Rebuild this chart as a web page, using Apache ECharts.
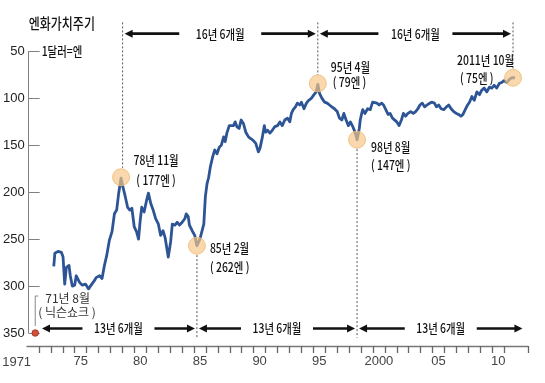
<!DOCTYPE html>
<html><head><meta charset="utf-8">
<script src="https://cdn.jsdelivr.net/npm/echarts@6/dist/echarts.min.js"></script>
<style>html,body{margin:0;padding:0;background:#fff}#c{width:545px;height:383px}</style>
</head><body><div id="c"></div>
<script>
// ---- DATA ----
const dates = [
 1973.11,1973.20,1973.47,1973.75,1973.89,
 1974.03,1974.17,1974.39,1974.50,1974.67,1974.87,
 1975.00,1975.28,1975.50,1975.79,
 1976.04,1976.25,1976.54,1976.67,1976.96,
 1977.17,1977.37,1977.57,1977.79,
 1978.01,1978.21,1978.40,1978.57,1978.77,1978.90,
 1979.13,1979.32,1979.51,1979.68,1979.88,
 1980.07,1980.24,1980.38,1980.51,1980.71,1980.91,
 1981.07,1981.27,1981.47,1981.68,1981.91,
 1982.10,1982.30,1982.47,1982.74,1982.94,
 1983.08,1983.30,1983.50,1983.69,1983.91,
 1984.14,1984.25,1984.42,1984.52,1984.75,1984.97,
 1985.15,1985.40,1985.73,1985.86,
 1986.00,1986.14,1986.28,1986.48,1986.65,1986.84,
 1987.03,1987.20,1987.40,1987.53,1987.67,1987.87,
 1988.03,1988.23,1988.37,1988.51,1988.70,1988.87,
 1989.07,1989.26,1989.49,1989.70,1989.90,
 1990.10,1990.32,1990.46,1990.66,1990.82,1990.93,
 1991.10,1991.29,1991.49,1991.71,1991.93,
 1992.13,1992.33,1992.54,1992.77,1992.96,
 1993.10,1993.25,1993.44,1993.60,1993.80,1993.94,
 1994.16,1994.36,1994.55,1994.77,
 1995.00,1995.19,1995.32,1995.47,1995.67,1995.89,
 1996.11,1996.30,1996.50,1996.72,1996.95,
 1997.14,1997.34,1997.51,1997.70,1997.89,
 1998.06,1998.26,1998.45,1998.62,1998.81,1998.89,
 1999.01,1999.10,1999.29,1999.51,1999.73,1999.93,
 2000.06,2000.29,2000.48,2000.68,2000.85,
 2001.04,2001.23,2001.40,2001.60,2001.73,2001.96,
 2002.15,2002.35,2002.52,2002.71,2002.90,
 2003.13,2003.35,2003.55,2003.74,2003.91,
 2004.11,2004.30,2004.52,2004.74,2004.94,
 2005.13,2005.30,2005.49,2005.69,2005.91,
 2006.14,2006.33,2006.53,2006.75,2006.97,
 2007.16,2007.36,2007.53,2007.72,2007.92,
 2008.08,2008.28,2008.48,2008.70,2008.92,
 2009.12,2009.31,2009.54,2009.75,2009.95,
 2010.15,2010.37,2010.59,2010.79,2010.98,
 2011.21,2011.42,2011.62,2011.76,2011.90
];
const yen = [
 279,265,263,264,269,
 298,280,278,289,300,299,
 289,296,299,298,
 303,299,294,291,289,
 292,278,267,251,
 242,223,219,201,185,193,
 205,216,219,217,237,
 242,250,230,216,221,209,
 201,212,219,228,234,
 246,241,248,269,253,
 234,235,232,235,232,
 228,223,226,235,241,246,
 257,250,234,205,
 191,184,173,162,155,159,
 152,150,141,146,137,129,
 127,129,125,130,132,123,
 127,136,141,143,145,
 148,157,153,141,129,136,
 134,137,134,130,129,
 125,129,123,121,125,
 116,112,109,105,107,104,
 111,105,102,100,
 96,93,85,95,100,104,
 105,107,109,111,114,
 121,123,116,123,129,
 125,130,136,144,132,123,
 116,112,116,111,112,104,
 102,105,107,105,107,
 112,117,116,121,119,125,
 129,123,116,119,116,
 114,116,114,111,107,
 105,109,107,105,104,
 105,109,107,111,112,
 109,107,111,114,116,
 117,119,117,112,107,
 104,98,102,93,96,
 91,89,93,88,89,
 86,89,84,83,81,
 83,80,78,76,78
];
const yearCats = ['1971','1972','1973','1974','1975','1976','1977','1978','1979','1980',
 '1981','1982','1983','1984','1985','1986','1987','1988','1989','1990',
 '1991','1992','1993','1994','1995','1996','1997','1998','1999','2000',
 '2001','2002','2003','2004','2005','2006','2007','2008','2009','2010','2011','2012'];
const xTickYears = ['1975','1980','1985','1990','1995','2000','2005','2010'];
const xTickText  = ['75','80','85','90','95','2000','05','10'];
const yTicks = [50,100,150,200,250,300,350];

const eventX = [1978.77, 1985.15, 1995.32, 1998.62, 2011.74];
const eventY = [184, 257, 84, 144, 78];
const eventTitle = ['78년 11월','85년 2월','95년 4월','98년 8월','2011년 10월'];
const eventValue = ['( 177엔 )','( 262엔 )','( 79엔 )','( 147엔 )','( 75엔 )'];
const guideX = [1978.9, 1985.15, 1995.32, 1998.62, 2011.74];
const topPeriods = [[1978.9,1995.32,'16년 6개월'],[1995.32,2011.74,'16년 6개월']];
const bottomPeriods = [[1971.95,1985.15,'13년 6개월'],[1985.15,1998.62,'13년 6개월'],[1998.62,2012.7,'13년 6개월']];
const nixonX = 1971.55, nixonY = 350;

const KR = '"Noto Sans CJK KR", "Noto Sans", sans-serif';
const NUM = '"Liberation Sans", Arial, sans-serif';

const chart = echarts.init(document.getElementById('c'));
chart.setOption({
  animation: false,
  backgroundColor: '#fff',
  grid: [
    { left: 27, right: 17, top: 51.5, bottom: 50 },
    { left: 27, right: 17, top: 345, height: 1 }
  ],
  xAxis: [
    { type: 'value', gridIndex: 0, min: 1971, max: 2013, show: false },
    { type: 'category', gridIndex: 1, data: yearCats, position: 'bottom', boundaryGap: true,
      axisLine: { show: true, onZero: false, lineStyle: { color: '#777', width: 1.4 } },
      axisTick: { show: true, length: 7, interval: (i) => i >= 1 && i <= 40, lineStyle: { color: '#666', width: 1.3 } },
      axisLabel: { interval: (i, v) => xTickYears.indexOf(v) >= 0,
        formatter: (v) => { const k = xTickYears.indexOf(v); return k >= 0 ? xTickText[k] : ''; },
        color: '#444', fontSize: 13, fontFamily: NUM, margin: 9 } }
  ],
  yAxis: [
    { type: 'value', gridIndex: 0, inverse: true, min: 50, max: 350, interval: 50,
      axisLine: { show: true, onZero: false, lineStyle: { color: '#808080' } },
      axisTick: { show: true, inside: true, length: 11, lineStyle: { color: '#808080' } },
      axisLabel: { color: '#222', fontSize: 13, fontFamily: NUM, margin: 4,
        formatter: (v) => yTicks.indexOf(v) >= 0 ? String(v) : '' },
      splitLine: { show: false } },
    { type: 'value', gridIndex: 1, show: false, min: 0, max: 1 }
  ],
  series: [{ type: 'line', xAxisIndex: 0, yAxisIndex: 0, showSymbol: false,
    data: dates.map((d, i) => [d, yen[i]]),
    lineStyle: { color: '#2d5595', width: 2.8, join: 'round' }, z: 2 }]
});

const P = (x, y) => chart.convertToPixel({ xAxisIndex: 0, yAxisIndex: 0 }, [x, y]);
const g = [];
function txt(x, y, text, opt) {
  opt = opt || {};
  g.push({ type: 'text', x: x, y: y, scaleX: opt.sx || 0.8, z: 120,
    style: { text: text, x: 0, y: 0, fill: opt.fill || '#111', fontSize: opt.fs || 13,
      fontWeight: opt.fw || 500, fontFamily: opt.ff || KR, align: opt.align || 'left', verticalAlign: 'middle' } });
}
function seg(x1, y1, x2, y2, st) {
  g.push({ type: 'line', z: 110, shape: { x1: x1, y1: y1, x2: x2, y2: y2 }, style: st });
}
function head(xTip, y, dir) {
  const L = 8, W = 4;
  g.push({ type: 'polygon', z: 111, shape: { points: [[xTip, y], [xTip - dir * L, y - W], [xTip - dir * L, y + W]] },
    style: { fill: '#111' } });
}
function period(p, yv, half) {
  const a = P(p[0], yv), b = P(p[1], yv);
  const y = a[1], x1 = a[0] + 2, x2 = b[0] - 2, cx = (x1 + x2) / 2;
  const st = { stroke: '#111', lineWidth: 2.6 };
  seg(x1 + 6, y, cx - half, y, st);
  seg(cx + half, y, x2 - 6, y, st);
  head(x1, y, -1); head(x2, y, 1);
  txt(cx, y, p[2], { align: 'center', fs: 13, sx: 0.8 });
}

const o = P(1971, 50);
txt(o[0], 23, '엔화가치주기', { fs: 15, sx: 0.8 });
txt(o[0] + 13, o[1], '1달러=엔', { fs: 13, sx: 0.8 });

const guideRange = [[19, 174], [267, 355], [19, 75], [154, 355], [19, 69]];
guideX.forEach((x, i) => {
  const a = P(x, guideRange[i][0]), b = P(x, guideRange[i][1]);
  seg(a[0], a[1], b[0], b[1], { stroke: '#555', lineWidth: 1, lineDash: [2, 2] });
});

topPeriods.forEach((p, i) => period(p, 31, i === 0 ? 41 : 37));
bottomPeriods.forEach((p) => period(p, 345.2, 36));

const labOff = [[35, -17, 'center', 35, 3, 'center'], [13, 2, 'left', 13, 21, 'left'],
  [13, -16, 'left', 15, -1, 'left'], [14, 7, 'left', 14, 25, 'left'], [-56, -18, 'left', -53, 0, 'left']];
eventX.forEach((x, i) => {
  const c = P(x, eventY[i]);
  g.push({ type: 'circle', z: 105, shape: { cx: c[0], cy: c[1], r: 8.5 },
    style: { fill: 'rgba(246,198,135,0.68)', stroke: 'rgba(240,185,115,0.8)', lineWidth: 1 } });
  const f = labOff[i];
  txt(c[0] + f[0], c[1] + f[1], eventTitle[i], { align: f[2] });
  txt(c[0] + f[3], c[1] + f[4], eventValue[i], { align: f[5] });
});

const n = P(nixonX, nixonY);
seg(n[0], n[1] - 7, n[0], n[1] - 37, { stroke: '#888', lineWidth: 1 });
seg(n[0], n[1] - 37, n[0] + 3, n[1] - 37, { stroke: '#888', lineWidth: 1 });
g.push({ type: 'circle', z: 112, shape: { cx: n[0], cy: n[1], r: 3.3 }, style: { fill: '#d0503a', stroke: '#9a3020', lineWidth: 0.8 } });
txt(n[0] + 10, n[1] - 35, '71년 8월', { fs: 12, sx: 1, fw: 400, fill: '#333' });
txt(n[0] + 3, n[1] - 21, '( 닉슨쇼크 )', { fs: 12, sx: 1, fw: 400, fill: '#333' });

const l = P(1971.5, 350);
txt(l[0] - 18, l[1] + 29, '1971', { fs: 13, sx: 1, fw: 400, ff: NUM, fill: '#444', align: 'center' });

chart.setOption({ graphic: { elements: g } });
</script>
</body></html>
